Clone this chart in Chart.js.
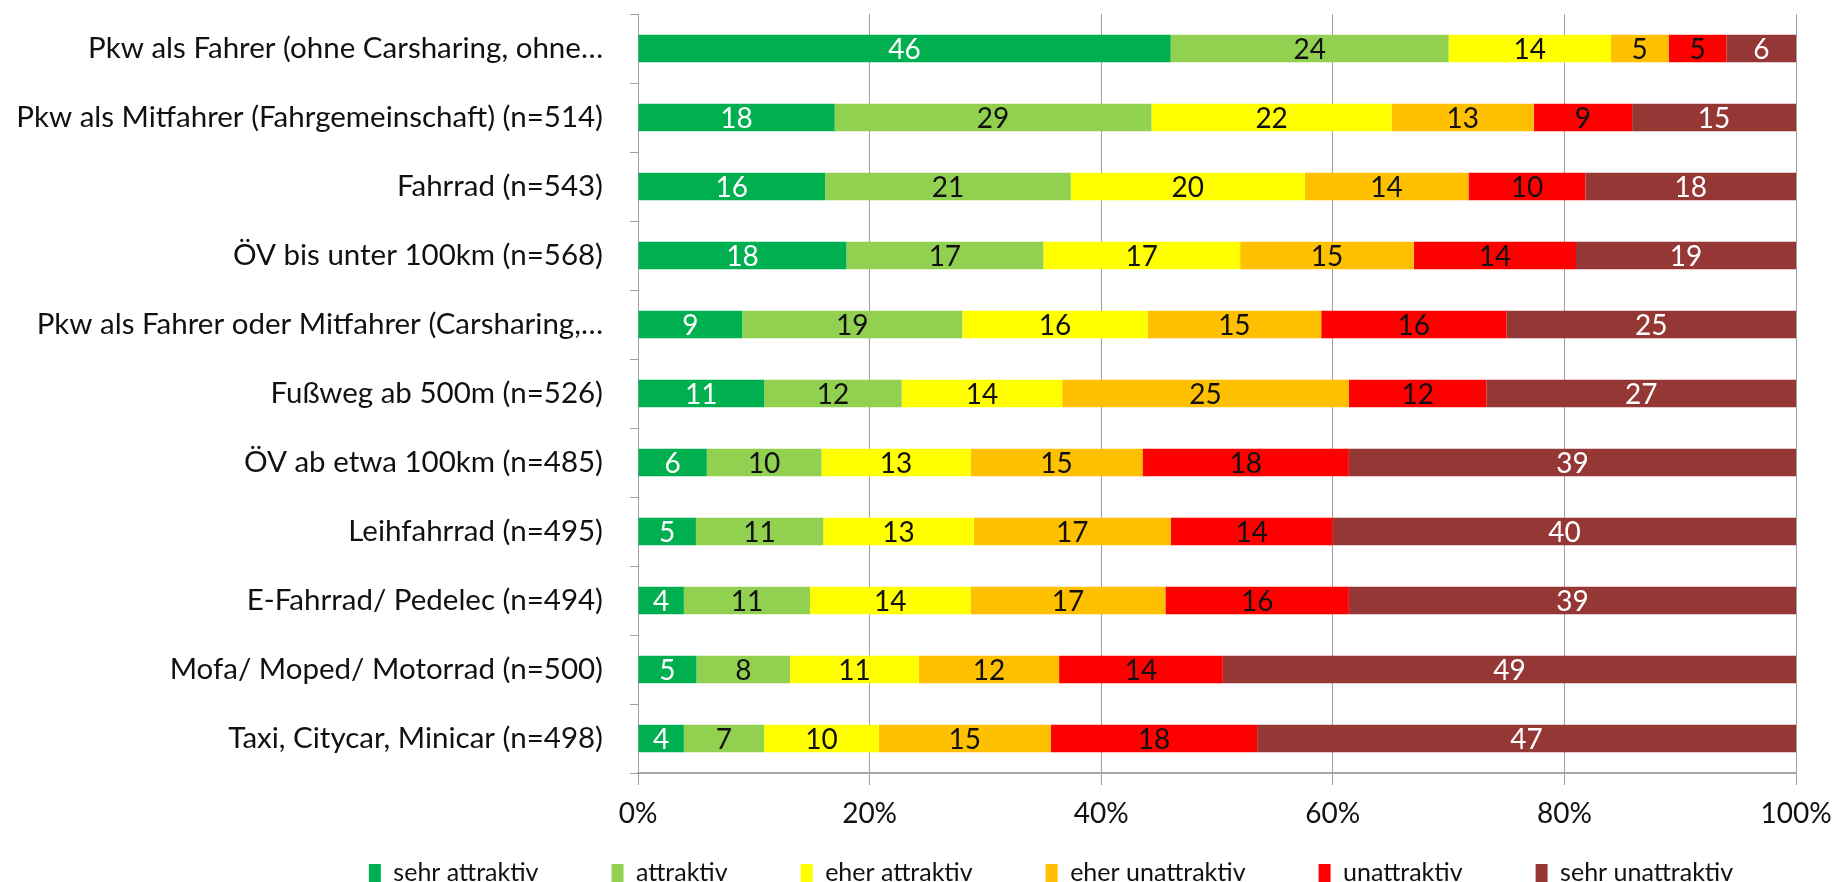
<!DOCTYPE html>
<html>
<head>
<meta charset="utf-8">
<script src="https://cdn.jsdelivr.net/npm/chart.js@4/dist/chart.umd.min.js"></script>
<style>
  html, body { margin: 0; padding: 0; background: #fff; overflow: hidden; }
  #wrap { position: relative; width: 1837px; height: 941px; }
</style>
</head>
<body>
<div id="wrap"><canvas id="chart"></canvas></div>
<script>
const categories = [
  "Pkw als Fahrer (ohne Carsharing, ohne\u2026",
  "Pkw als Mitfahrer (Fahrgemeinschaft) (n=514)",
  "Fahrrad (n=543)",
  "\u00d6V bis unter 100km (n=568)",
  "Pkw als Fahrer oder Mitfahrer (Carsharing,\u2026",
  "Fu\u00dfweg ab 500m (n=526)",
  "\u00d6V ab etwa 100km (n=485)",
  "Leihfahrrad (n=495)",
  "E-Fahrrad/ Pedelec (n=494)",
  "Mofa/ Moped/ Motorrad (n=500)",
  "Taxi, Citycar, Minicar (n=498)"
];
const seriesNames = ["sehr attraktiv", "attraktiv", "eher attraktiv", "eher unattraktiv", "unattraktiv", "sehr unattraktiv"];
const sehrAttraktiv   = [46, 18, 16, 18,  9, 11,  6,  5,  4,  5,  4];
const attraktiv       = [24, 29, 21, 17, 19, 12, 10, 11, 11,  8,  7];
const eherAttraktiv   = [14, 22, 20, 17, 16, 14, 13, 13, 14, 11, 10];
const eherUnattraktiv = [ 5, 13, 14, 15, 15, 25, 15, 17, 17, 12, 15];
const unattraktiv     = [ 5,  9, 10, 14, 16, 12, 18, 14, 16, 14, 18];
const sehrUnattraktiv = [ 6, 15, 18, 19, 25, 27, 39, 40, 39, 49, 47];
const tickLabels = ["0%", "20%", "40%", "60%", "80%", "100%"];

const series = [sehrAttraktiv, attraktiv, eherAttraktiv, eherUnattraktiv, unattraktiv, sehrUnattraktiv];
const colors = ["#00B050", "#92D050", "#FFFF00", "#FFC000", "#FF0000", "#953735"];
const labelColors = ["#fff", "#111", "#111", "#111", "#111", "#fff"];
const FONT = "Lato";

// 100% stacked: each row scaled to its own total
const totals = categories.map((c, i) => series.reduce((s, arr) => s + arr[i], 0));

const datasets = series.map((arr, k) => ({
  label: seriesNames[k],
  raw: arr,
  data: arr.map((v, i) => v / totals[i] * 100),
  backgroundColor: colors[k],
  borderWidth: 0,
  barPercentage: 0.4,
  categoryPercentage: 1
}));

const valueLabels = {
  id: "valueLabels",
  afterDatasetsDraw(chart) {
    const ctx = chart.ctx;
    ctx.save();
    ctx.font = "28px " + FONT;
    ctx.textAlign = "center";
    ctx.textBaseline = "middle";
    chart.data.datasets.forEach((ds, k) => {
      const meta = chart.getDatasetMeta(k);
      meta.data.forEach((bar, i) => {
        ctx.fillStyle = labelColors[k];
        ctx.fillText(String(ds.raw[i]), (bar.x + bar.base) / 2, bar.y + 1);
      });
    });
    ctx.restore();
  }
};

// the legend sits a bit right of centre and closer to the axis than chart.js puts it
const moveLegend = {
  id: "moveLegend",
  afterLayout(chart) {
    const lg = chart.legend;
    const dx = 1051 - (lg.left + lg.right) / 2;
    const dy = 873 - (lg.bottom - 22.5);
    lg.left += dx; lg.right += dx;
    lg.top += dy; lg.bottom += dy;
  }
};

new Chart(document.getElementById("chart"), {
  type: "bar",
  data: { labels: categories, datasets: datasets },
  plugins: [valueLabels, moveLegend],
  options: {
    indexAxis: "y",
    responsive: true,
    maintainAspectRatio: false,
    animation: false,
    layout: { padding: { top: 14, right: 41, left: 0, bottom: 0 } },
    plugins: {
      legend: {
        position: "bottom",
        labels: {
          font: { family: FONT, size: 25 },
          color: "#111",
          boxWidth: 12,
          boxHeight: 18,
          padding: 73
        }
      },
      tooltip: { enabled: false }
    },
    scales: {
      x: {
        stacked: true,
        min: 0,
        max: 100,
        ticks: {
          stepSize: 20,
          font: { family: FONT, size: 28 },
          color: "#111",
          padding: 12,
          callback: (v) => tickLabels[v / 20]
        },
        grid: { color: "#A0A0A0", lineWidth: 1, tickLength: 12 },
        border: { color: "#A6A6A6", width: 2 },
        afterFit: (s) => { s.height = 60; s.paddingLeft = 0; s.paddingRight = 0; }
      },
      y: {
        stacked: true,
        ticks: {
          font: { family: FONT, size: 29.5 },
          color: "#111",
          padding: 27
        },
        grid: { drawOnChartArea: false, color: "#A0A0A0", tickLength: 8, offset: true },
        border: { color: "#A0A0A0", width: 1 },
        afterFit: (s) => { s.width = 638; s.paddingTop = 0; s.paddingBottom = 0; }
      }
    }
  }
});
</script>
</body>
</html>
